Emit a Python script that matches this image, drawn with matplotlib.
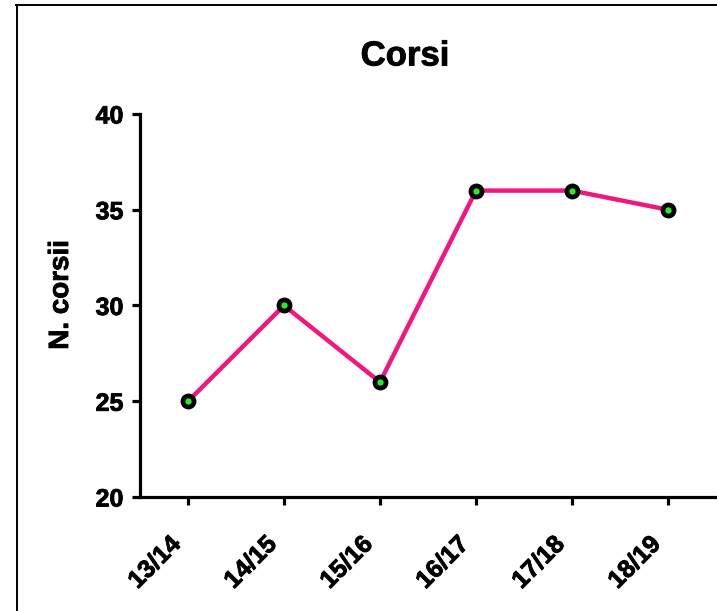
import matplotlib.pyplot as plt
import matplotlib.patheffects as pe
from matplotlib.lines import Line2D

# Data
seasons = ['13/14', '14/15', '15/16', '16/17', '17/18', '18/19']
n_corsi = [25, 30, 26, 36, 36, 35]
y_ticks = [20, 25, 30, 35, 40]

plt.rcParams['font.family'] = ['Liberation Sans', 'DejaVu Sans']
plt.rcParams['font.weight'] = 'bold'

heavy = [pe.withStroke(linewidth=0.6, foreground='black')]

fig = plt.figure(figsize=(7.17, 6.11), dpi=100)
ax = fig.add_axes([140 / 717, 1 - 497 / 611, 576 / 717, 383 / 611])

x = list(range(len(seasons)))
ax.plot(x, n_corsi, color='#F2177F', lw=3.2, zorder=2)
ax.plot(x, n_corsi, 'o', ms=8, mfc='#22EE22', mec='black', mew=3.4, zorder=3)

ax.set_xlim(-0.5, 5.5)
ax.set_ylim(20, 40)
ax.set_yticks(y_ticks)
ax.set_xticks(x)
ax.set_xticklabels([])
# rotated season labels sit a bit left of and below each tick
for i, s in enumerate(seasons):
    ax.annotate(s, xy=(i, 0), xycoords=('data', 'axes fraction'),
                xytext=(-14, -25), textcoords='offset points',
                rotation=45, ha='right', va='top', rotation_mode='anchor',
                fontsize=18, fontweight='bold', path_effects=heavy,
                annotation_clip=False)
for lab in ax.get_yticklabels():
    lab.set_fontsize(18)
    lab.set_fontweight('bold')
    lab.set_path_effects(heavy)

for s in ['top', 'right']:
    ax.spines[s].set_visible(False)
for s in ['left', 'bottom']:
    ax.spines[s].set_linewidth(2.3)
ax.tick_params(length=6, width=2.3)
ax.tick_params(axis='y', pad=6)

fig.text(405 / 717, 1 - 56 / 611, 'Corsi', ha='center', va='center',
         fontsize=25, fontweight='bold', path_effects=heavy)
fig.text(61 / 717, 1 - 295 / 611, 'N. corsii', ha='center', va='center',
         rotation=90, fontsize=20, fontweight='bold', path_effects=heavy)

# frame lines on the left and top edges
fig.add_artist(Line2D([16.5 / 717, 16.5 / 717], [0, 1 - 4.5 / 611],
                      transform=fig.transFigure, color='black', lw=1.4))
fig.add_artist(Line2D([16 / 717, 1], [1 - 4.5 / 611, 1 - 4.5 / 611],
                      transform=fig.transFigure, color='black', lw=1.4))

fig.savefig('out.png', dpi=100)
